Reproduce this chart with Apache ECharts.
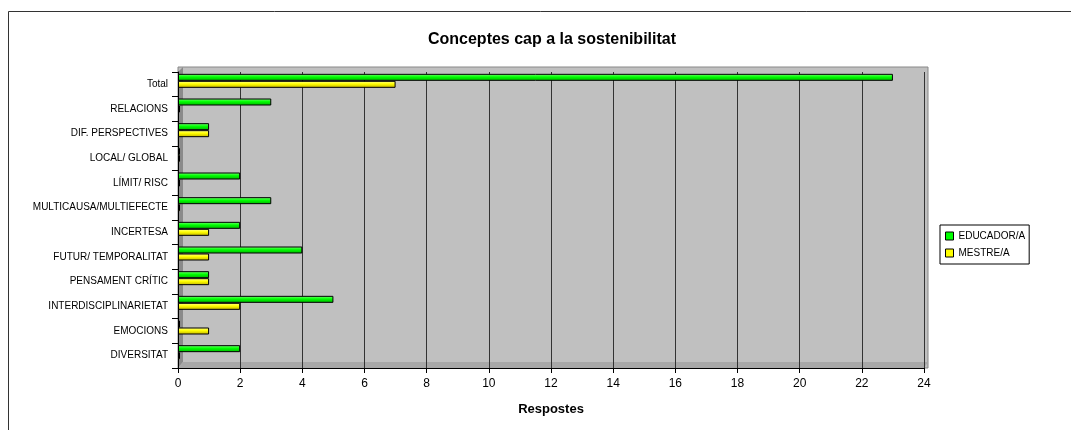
<!DOCTYPE html>
<html>
<head>
<meta charset="utf-8">
<script src="https://cdn.jsdelivr.net/npm/echarts@6/dist/echarts.min.js"></script>
<style>
html, body { margin: 0; padding: 0; background: #fff; }
#chart { width: 1071px; height: 430px; }
</style>
</head>
<body>
<div id="chart"></div>
<script>
// categories from top to bottom
var categories = ['Total', 'RELACIONS', 'DIF. PERSPECTIVES', 'LOCAL/ GLOBAL', 'LÍMIT/ RISC',
	'MULTICAUSA/MULTIEFECTE', 'INCERTESA', 'FUTUR/ TEMPORALITAT', 'PENSAMENT CRÍTIC',
	'INTERDISCIPLINARIETAT', 'EMOCIONS', 'DIVERSITAT'];
var educador = [23, 3, 1, 0, 2, 3, 2, 4, 1, 5, 0, 2];
var mestre = [7, 0, 1, 0, 0, 0, 1, 1, 1, 2, 1, 0];
var xTicks = [0, 24, 2];

var chart = echarts.init(document.getElementById('chart'));

// fake cylinder shading
function cyl(c1, c2, c3) {
	return new echarts.graphic.LinearGradient(0, 0, 0, 1, [
		{offset: 0, color: c1}, {offset: 0.45, color: c2}, {offset: 1, color: c3}
	]);
}

var option = {
	backgroundColor: '#fff',
	animation: false,
	textStyle: {fontFamily: 'Liberation Sans, Arial, sans-serif'},
	title: {
		text: 'Conceptes cap a la sostenibilitat',
		left: 547, top: 27, textAlign: 'center',
		textStyle: {fontSize: 16, fontWeight: 'bold', color: '#000'}
	},
	graphic: [
		// outer frame
		{type: 'rect', shape: {x: 8.5, y: 11.5, width: 1100, height: 500}, style: {fill: 'none', stroke: '#333', lineWidth: 1}, z: -20},
		// back wall
		{type: 'rect', shape: {x: 178, y: 67, width: 750, height: 301}, style: {fill: '#c0c0c0', stroke: '#888', lineWidth: 1}, z: -10},
		// left wall
		{type: 'polygon', shape: {points: [[178, 72], [183, 67], [183, 362], [178, 368]]}, style: {fill: '#8a8a8a'}, z: -9},
		// floor
		{type: 'polygon', shape: {points: [[178, 368], [183, 362], [928, 362], [924, 368]]}, style: {fill: '#a8a8a8'}, z: -9}
	],
	legend: {
		orient: 'vertical',
		left: 940, top: 225,
		itemWidth: 8, itemHeight: 8, itemGap: 7,
		padding: [6, 4, 6, 5],
		borderColor: '#000', borderWidth: 1,
		textStyle: {fontSize: 10, color: '#000'},
		icon: 'rect',
		data: [
			{name: 'EDUCADOR/A', itemStyle: {color: '#00ff00', borderColor: '#000', borderWidth: 1}},
			{name: 'MESTRE/A', itemStyle: {color: '#ffff00', borderColor: '#000', borderWidth: 1}}
		]
	},
	grid: {left: 178, right: 147, top: 72, bottom: 62, containLabel: false},
	xAxis: {
		type: 'value', min: xTicks[0], max: xTicks[1], interval: xTicks[2],
		name: 'Respostes', nameLocation: 'middle', nameGap: 35,
		nameTextStyle: {fontSize: 13, fontWeight: 'bold', color: '#000'},
		axisLine: {show: true, lineStyle: {color: '#000'}},
		axisTick: {show: true, length: 5, lineStyle: {color: '#000'}},
		axisLabel: {fontSize: 12, color: '#000', margin: 10},
		splitLine: {show: true, lineStyle: {color: '#333', width: 1}}
	},
	yAxis: {
		type: 'category', data: categories, inverse: true,
		axisLine: {show: true, lineStyle: {color: '#000'}},
		axisTick: {show: true, length: 6, lineStyle: {color: '#000'}},
		axisLabel: {fontSize: 10, color: '#000', margin: 10}
	},
	series: [
		{
			name: 'EDUCADOR/A', type: 'bar', data: educador,
			barWidth: 7, barGap: '0%', barMinHeight: 2,
			itemStyle: {color: cyl('#7dff7d', '#00ff00', '#00b000'), borderColor: '#000', borderWidth: 1}
		},
		{
			name: 'MESTRE/A', type: 'bar', data: mestre,
			barWidth: 7, barGap: '0%', barMinHeight: 2,
			itemStyle: {color: cyl('#ffff99', '#ffff00', '#c0b000'), borderColor: '#000', borderWidth: 1}
		},
		{
			// empty slot so the pair sits in the upper part of each band
			name: 'spacer', type: 'bar', data: categories.map(function() { return '-'; }),
			barWidth: 7, barGap: '0%', silent: true,
			itemStyle: {color: 'transparent'}
		}
	]
};
chart.setOption(option);
</script>
</body>
</html>
